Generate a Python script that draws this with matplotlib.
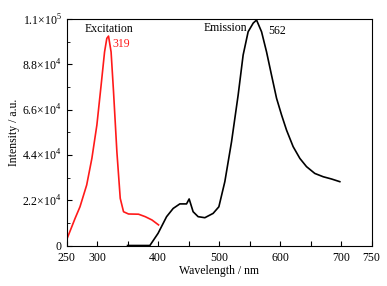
import numpy as np
import matplotlib
matplotlib.use("Agg")
import matplotlib.pyplot as plt
from matplotlib.ticker import MultipleLocator, FuncFormatter

plt.rcParams["font.family"] = ["Liberation Serif", "DejaVu Serif"]
plt.rcParams["mathtext.fontset"] = "custom"
plt.rcParams["mathtext.rm"] = "Liberation Serif"

# excitation spectrum (red)
exc_wl = [250, 264, 272, 283, 291.5, 299.7, 306.7, 312.3, 316, 318.8, 323, 327,
          332.5, 338, 343.4, 351.6, 368, 379, 390, 400.8]
exc_int = [2.7e3, 13.2e3, 18.8e3, 29.4e3, 42.3e3, 58.5e3, 78e3, 94e3, 100.6e3,
           101.7e3, 94e3, 74.7e3, 45.5e3, 22.9e3, 16.4e3, 15.3e3, 15.2e3, 14e3,
           12.4e3, 10e3]

# emission spectrum (black)
emi_wl = [350, 386.6, 400, 414, 424.8, 435.7, 446.7, 451, 457.5, 465.7, 476.7,
          490.3, 499.7, 509.5, 520.5, 531.3, 539.5, 547.7, 556, 561.5, 569.7,
          577.9, 586, 594.3, 602.5, 610.7, 621.5, 632.5, 643.4, 657, 670.7, 684.4,
          698]
emi_int = [0, 0, 5.9e3, 14e3, 18e3, 20.2e3, 20.2e3, 22.6e3, 16.4e3, 14e3, 13.5e3,
           15.6e3, 18.8e3, 31e3, 50.4e3, 73e3, 92.5e3, 103.8e3, 108e3, 109.5e3,
           103.8e3, 94e3, 82.8e3, 71.5e3, 63.4e3, 56e3, 48e3, 42.3e3, 38.3e3,
           35e3, 33.4e3, 32.3e3, 31e3]

fig = plt.figure(figsize=(3.87, 2.86), dpi=100)
ax = fig.add_axes([0.172, 0.1416, 0.788, 0.792])

ax.plot(exc_wl, exc_int, color="#ff1a1a", linewidth=1.2)
ax.plot(emi_wl, emi_int, color="black", linewidth=1.2)

ax.set_xlim(250, 750)
ax.set_ylim(0, 1.1e5)
ax.xaxis.set_major_locator(MultipleLocator(50))
ax.yaxis.set_major_locator(MultipleLocator(2.2e4))
ax.yaxis.set_minor_locator(MultipleLocator(1.1e4))

shown = {250, 300, 400, 500, 600, 700, 750}
ax.xaxis.set_major_formatter(FuncFormatter(
    lambda v, p: f"{int(round(v))}" if int(round(v)) in shown else ""))


def yfmt(v, p):
    if v < 1:
        return "0" if abs(v) < 1 else ""
    e = int(np.floor(np.log10(v)))
    return f"{v / 10**e:.1f}$\\times$10$^{e}$"


ax.yaxis.set_major_formatter(FuncFormatter(yfmt))
ax.tick_params(which="both", direction="in", labelsize=8.5)
ax.tick_params(which="major", length=3.5)
ax.tick_params(which="minor", length=2)
ax.tick_params(axis="x", pad=4.5)

ax.set_xlabel("Wavelength / nm", fontsize=8.5, labelpad=1)
ax.set_ylabel("Intensity / a.u.", fontsize=8.5, labelpad=2)

ax.text(320, 1.05e5, "Excitation", fontsize=8.5, ha="center", va="center")
ax.text(326, 0.978e5, "319", fontsize=8.5, color="#ff1a1a", ha="left", va="center")
ax.text(510, 1.056e5, "Emission", fontsize=8.5, ha="center", va="center")
ax.text(580, 1.042e5, "562", fontsize=8.5, ha="left", va="center")

fig.savefig("out.png", dpi=100)
